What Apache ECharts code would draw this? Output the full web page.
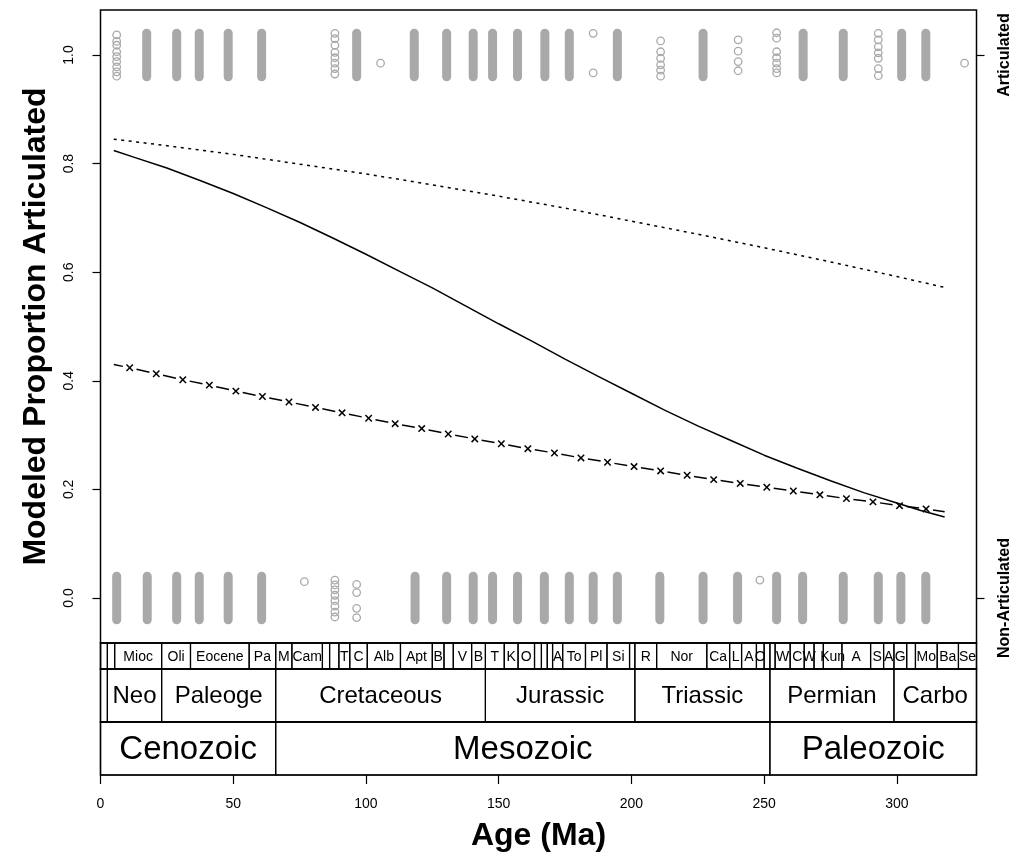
<!DOCTYPE html>
<html><head><meta charset="utf-8">
<script src="https://cdn.jsdelivr.net/npm/echarts@6/dist/echarts.min.js"></script>
<style>html,body{margin:0;padding:0;background:#fff}#c{width:1015px;height:861px}</style>
</head><body><div id="c"></div>
<script>
// ---------------- data ----------------
const xTicks = [0, 50, 100, 150, 200, 250, 300];
const yTicks = [0, 0.2, 0.4, 0.6, 0.8, 1.0];
const rightTicks = [0, 1];
const rightLabels = ['Non-Articulated', 'Articulated'];

// fitted model curves (age in Ma, proportion)
const solidAges  = [5, 12.5, 25, 37.5, 50, 62.5, 75, 87.5, 100, 112.5, 125, 137.5, 150, 162.5, 175, 187.5, 200,
                    212.5, 225, 237.5, 250, 262.5, 275, 287.5, 300, 309, 318];
const solidVals  = [0.824, 0.812, 0.792, 0.769, 0.745, 0.719, 0.692, 0.663, 0.633, 0.602, 0.571, 0.538, 0.505,
                    0.473, 0.440, 0.408, 0.377, 0.346, 0.317, 0.290, 0.263, 0.239, 0.216, 0.194, 0.175, 0.161, 0.149];
const dottedAges = [5, 25, 50, 75, 100, 125, 150, 175, 200, 225, 250, 275, 300, 318];
const dottedVals = [0.845, 0.833, 0.817, 0.799, 0.781, 0.761, 0.740, 0.718, 0.694, 0.670, 0.645, 0.619, 0.592, 0.572];
const dashedAges = [5, 11, 21, 31, 41, 51, 61, 71, 81, 91, 101, 111, 121, 131, 141, 151, 161, 171, 181, 191, 201,
                    211, 221, 231, 241, 251, 261, 271, 281, 291, 301, 311, 318];
const dashedVals = [0.430, 0.424, 0.413, 0.402, 0.392, 0.381, 0.371, 0.361, 0.351, 0.341, 0.331, 0.321, 0.312, 0.302,
                    0.293, 0.284, 0.275, 0.267, 0.258, 0.250, 0.242, 0.234, 0.226, 0.218, 0.211, 0.204, 0.197, 0.190,
                    0.183, 0.177, 0.170, 0.164, 0.159];

// jittered observations: densely packed columns (range of jittered values)
const topDenseAges = [17.4, 28.7, 37.2, 48.1, 60.7, 96.5, 118.2, 130.4, 140.4, 147.7, 157.1, 167.4, 176.6,
                      194.7, 227.0, 264.7, 279.8, 301.8, 310.9];
const topBand = [0.960, 1.040];
const botDenseAges = [6.1, 17.6, 28.7, 37.2, 48.1, 60.7, 118.5, 130.4, 140.4, 147.7, 157.1, 167.2, 176.6, 185.6,
                      194.7, 210.7, 227.0, 240.0, 254.7, 264.5, 279.8, 293.0, 301.5, 310.9];
const botBand = [-0.040, 0.040];
// sparse individual observations
const sparseAges = [6.1, 6.1, 6.1, 6.1, 6.1, 6.1, 6.1, 6.1, 6.1,
                    88.3, 88.3, 88.3, 88.3, 88.3, 88.3, 88.3, 88.3,
                    105.5, 185.6, 185.6,
                    211.0, 211.0, 211.0, 211.0, 211.0, 211.0,
                    240.2, 240.2, 240.2, 240.2,
                    254.7, 254.7, 254.7, 254.7, 254.7, 254.7, 254.7,
                    293.0, 293.0, 293.0, 293.0, 293.0, 293.0, 293.0,
                    325.5,
                    76.8,
                    88.3, 88.3, 88.3, 88.3, 88.3, 88.3, 88.3, 88.3,
                    96.5, 96.5, 96.5, 96.5,
                    248.4];
const sparseVals = [1.037, 1.025, 1.018, 1.006, 0.997, 0.988, 0.978, 0.969, 0.961,
                    1.040, 1.030, 1.018, 1.005, 0.995, 0.985, 0.975, 0.965,
                    0.985, 1.040, 0.967,
                    1.026, 1.006, 0.994, 0.982, 0.972, 0.961,
                    1.028, 1.007, 0.988, 0.971,
                    1.041, 1.031, 1.006, 0.995, 0.985, 0.975, 0.967,
                    1.040, 1.028, 1.015, 1.004, 0.994, 0.975, 0.962,
                    0.985,
                    0.030,
                    0.033, 0.024, 0.015, 0.005, -0.005, -0.015, -0.026, -0.035,
                    0.025, 0.010, -0.019, -0.036,
                    0.033];

// geologic time scale (Ma)
const stageBounds = [0, 0.0117, 2.588, 5.333, 23.03, 33.9, 56.0, 66.0, 72.1, 83.6, 86.3, 89.8, 93.9, 100.5, 113.0,
                     125.0, 129.4, 132.9, 139.8, 145.0, 152.1, 157.3, 163.5, 166.1, 168.3, 170.3, 174.1, 182.7, 190.8,
                     199.3, 201.3, 209.5, 228.4, 237.0, 241.5, 247.1, 250.0, 252.17, 254.14, 259.8, 265.1, 268.8,
                     272.3, 279.3, 290.1, 295.0, 298.9, 303.7, 307.0, 315.2, 323.2, 330.9];
const stageLabels = ['', '', '', 'Mioc', 'Oli', 'Eocene', 'Pa', 'M', 'Cam', '', '', 'T', 'C', 'Alb', 'Apt', 'B', '',
                     'V', 'B', 'T', 'K', 'O', '', '', '', 'A', 'To', 'Pl', 'Si', '', 'R', 'Nor', 'Ca', 'L', 'A', 'O',
                     '', '', 'W', 'C', 'W', '', 'Kun', 'A', 'S', 'A', 'G', '', 'Mo', 'Ba', 'Se'];
const periodBounds = [0, 2.588, 23.03, 66.0, 145.0, 201.3, 252.17, 298.9, 358.9];
const periodLabels = ['', 'Neo', 'Paleoge', 'Cretaceous', 'Jurassic', 'Triassic', 'Permian', 'Carbo'];
const eraBounds = [0, 66.0, 252.17, 541.0];
const eraLabels = ['Cenozoic', 'Mesozoic', 'Paleozoic'];

// ---------------- chart ----------------
const X_MIN = 0, X_MAX = 330;
const FONT = '"Liberation Sans", Arial, Helvetica, sans-serif';
const GREY = '#a9a9a9';
const GAP = 7;

function intervals(b) { const out = []; for (let i = 0; i < b.length - 1; i++) out.push([b[i], b[i + 1]]); return out; }

function bandRender(labels, fontSize) {
  return function (params, api) {
    const s = Math.max(api.value(0), X_MIN), e = Math.min(api.value(1), X_MAX);
    const p0 = api.coord([s, 1]), p1 = api.coord([e, 0]);
    const w = p1[0] - p0[0], h = p1[1] - p0[1];
    return {
      type: 'group', children: [
        { type: 'rect', shape: { x: p0[0], y: p0[1], width: w, height: h },
          style: { fill: null, stroke: '#000', lineWidth: 1.2 } },
        { type: 'text', style: { text: labels[params.dataIndex], x: p0[0] + w / 2, y: p0[1] + h / 2 + 1,
          align: 'center', verticalAlign: 'middle', fontFamily: FONT, fontSize: fontSize, fill: '#000' } }
      ]
    };
  };
}

function columnRender(params, api) {
  const p1 = api.coord([api.value(0), api.value(1)]);
  const p2 = api.coord([api.value(0), api.value(2)]);
  return { type: 'line', shape: { x1: p1[0], y1: p1[1], x2: p2[0], y2: p2[1] },
           style: { stroke: GREY, lineWidth: 9, lineCap: 'round' } };
}

function dashedRender(params, api) {
  const i = params.dataIndex, n = dashedAges.length;
  const p = api.coord([dashedAges[i], dashedVals[i]]);
  const interior = i > 0 && i < n - 1;
  const children = [];
  if (interior) {
    const r = 3.2;
    children.push({ type: 'line', shape: { x1: p[0] - r, y1: p[1] - r, x2: p[0] + r, y2: p[1] + r }, style: { stroke: '#000', lineWidth: 1.5 } });
    children.push({ type: 'line', shape: { x1: p[0] - r, y1: p[1] + r, x2: p[0] + r, y2: p[1] - r }, style: { stroke: '#000', lineWidth: 1.5 } });
  }
  if (i > 0) {
    const q = api.coord([dashedAges[i - 1], dashedVals[i - 1]]);
    const dx = p[0] - q[0], dy = p[1] - q[1], L = Math.hypot(dx, dy);
    const ux = dx / L, uy = dy / L;
    const gA = (i - 1 > 0) ? GAP : 0, gB = interior ? GAP : 0;
    children.push({ type: 'line', shape: { x1: q[0] + ux * gA, y1: q[1] + uy * gA, x2: p[0] - ux * gB, y2: p[1] - uy * gB },
                    style: { stroke: '#000', lineWidth: 1.5 } });
  }
  return { type: 'group', children: children };
}

const gridBase = { left: 100.5, width: 876 };
const hiddenX = (gi) => ({ type: 'value', gridIndex: gi, min: X_MIN, max: X_MAX, show: false });
const hiddenY = (gi) => ({ type: 'value', gridIndex: gi, min: 0, max: 1, show: false });

const option = {
  animation: false,
  backgroundColor: '#fff',
  textStyle: { fontFamily: FONT },
  grid: [
    Object.assign({ top: 10, height: 633, show: true, borderColor: '#000', borderWidth: 1.5 }, gridBase),
    Object.assign({ top: 643, height: 26, show: true, borderColor: '#000', borderWidth: 1.5 }, gridBase),
    Object.assign({ top: 669, height: 53, show: true, borderColor: '#000', borderWidth: 1.5 }, gridBase),
    Object.assign({ top: 722, height: 53, show: true, borderColor: '#000', borderWidth: 1.5 }, gridBase)
  ],
  xAxis: [
    hiddenX(0), hiddenX(1), hiddenX(2),
    { type: 'value', gridIndex: 3, min: X_MIN, max: X_MAX, position: 'bottom',
      axisLine: { show: false }, splitLine: { show: false },
      axisTick: { show: true, length: 9, customValues: xTicks, lineStyle: { color: '#000', width: 1.2 } },
      axisLabel: { customValues: xTicks, margin: 22, color: '#000', fontSize: 14, fontFamily: FONT },
      name: 'Age (Ma)', nameLocation: 'middle', nameGap: 45,
      nameTextStyle: { fontSize: 32, fontWeight: 'bold', color: '#000', fontFamily: FONT } }
  ],
  yAxis: [
    { type: 'value', gridIndex: 0, min: -0.0829, max: 1.0829, position: 'left',
      axisLine: { show: false }, splitLine: { show: false },
      axisTick: { show: true, length: 8, customValues: yTicks, lineStyle: { color: '#000', width: 1.2 } },
      axisLabel: { customValues: yTicks, rotate: 90, margin: 24, color: '#000', fontSize: 14, fontFamily: FONT,
                   formatter: v => v.toFixed(1) },
      name: 'Modeled Proportion Articulated', nameLocation: 'middle', nameRotate: 90, nameGap: 48,
      nameTextStyle: { fontSize: 32, fontWeight: 'bold', color: '#000', fontFamily: FONT } },
    { type: 'value', gridIndex: 0, min: -0.0829, max: 1.0829, position: 'right',
      axisLine: { show: false }, splitLine: { show: false },
      axisTick: { show: true, length: 8, customValues: rightTicks, lineStyle: { color: '#000', width: 1.2 } },
      axisLabel: { customValues: rightTicks, rotate: 90, margin: 20, color: '#000', fontSize: 16, fontWeight: 'bold',
                   fontFamily: FONT, formatter: v => rightLabels[rightTicks.indexOf(Math.round(v))] } },
    hiddenY(1), hiddenY(2), hiddenY(3)
  ],
  series: [
    { type: 'custom', xAxisIndex: 0, yAxisIndex: 0, renderItem: columnRender, silent: true,
      data: topDenseAges.map(a => [a, topBand[0], topBand[1]]).concat(botDenseAges.map(a => [a, botBand[0], botBand[1]])) },
    { type: 'scatter', xAxisIndex: 0, yAxisIndex: 0, symbol: 'circle', symbolSize: 7.5, silent: true,
      itemStyle: { color: 'rgba(0,0,0,0)', borderColor: GREY, borderWidth: 1.3, opacity: 1 },
      data: sparseAges.map((a, i) => [a, sparseVals[i]]) },
    { type: 'line', xAxisIndex: 0, yAxisIndex: 0, showSymbol: false, silent: true,
      lineStyle: { color: '#000', width: 1.5 }, data: solidAges.map((a, i) => [a, solidVals[i]]) },
    { type: 'line', xAxisIndex: 0, yAxisIndex: 0, showSymbol: false, silent: true,
      lineStyle: { color: '#000', width: 1.5, type: [3, 4.5] }, data: dottedAges.map((a, i) => [a, dottedVals[i]]) },
    { type: 'custom', xAxisIndex: 0, yAxisIndex: 0, renderItem: dashedRender, silent: true,
      data: dashedAges.map((a, i) => [a, dashedVals[i]]) },
    { type: 'custom', xAxisIndex: 1, yAxisIndex: 2, renderItem: bandRender(stageLabels, 14), silent: true,
      data: intervals(stageBounds) },
    { type: 'custom', xAxisIndex: 2, yAxisIndex: 3, renderItem: bandRender(periodLabels, 24), silent: true,
      data: intervals(periodBounds) },
    { type: 'custom', xAxisIndex: 3, yAxisIndex: 4, renderItem: bandRender(eraLabels, 33), silent: true,
      data: intervals(eraBounds) }
  ]
};
const chart = echarts.init(document.getElementById('c'));
chart.setOption(option);
</script>
</body></html>
